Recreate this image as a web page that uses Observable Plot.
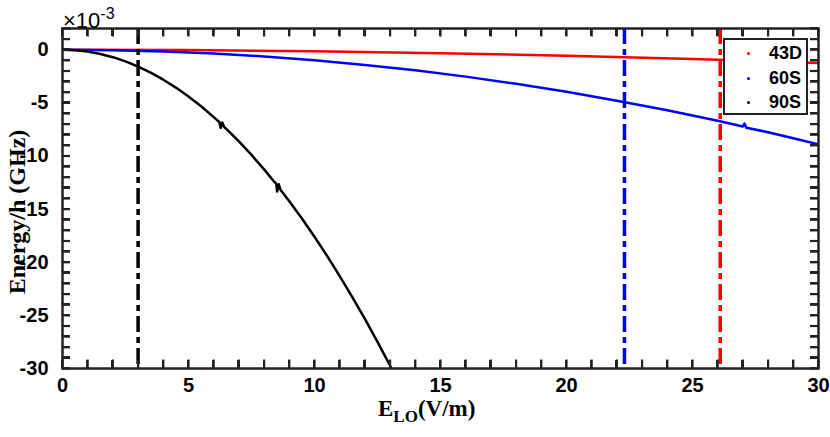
<!DOCTYPE html>
<html>
<head>
<meta charset="utf-8">
<script src="https://cdn.jsdelivr.net/npm/d3@7"></script>
<script src="https://cdn.jsdelivr.net/npm/@observablehq/plot@0.6"></script>
<style>
  body { margin: 0; background: #fff; }
  #wrap { position: relative; width: 830px; height: 437px; overflow: hidden; }
  .ov { position: absolute; white-space: nowrap; color: #000; }
  .tk { position: absolute; background: #222; }
  #wrap svg { font-family: 'Liberation Sans', Arial, sans-serif; }
</style>
</head>
<body>
<div id="wrap"></div>
<script>
// ---- data (Energy/h in units of 1e-3 GHz) ----
const x43D = [0, 5, 10, 15, 20, 25, 26, 28, 30];
const y43D = [0, -0.035, -0.14, -0.32, -0.56, -0.88, -0.95, -1.10, -1.26];

const x60S = [0, 2, 4, 6, 8, 10, 12, 14, 16, 18, 20, 22, 24, 26, 27.0, 27.06, 27.14, 28, 29, 30];
const y60S = [0, -0.04, -0.16, -0.36, -0.63, -0.99, -1.43, -1.94, -2.53, -3.21, -3.96, -4.79, -5.70, -6.69, -7.22, -6.95, -7.35, -7.76, -8.33, -8.91];

const x90S = [0, 0.5, 1, 1.5, 2, 2.5, 3, 3.5, 4, 4.5, 5, 5.5, 6, 6.22, 6.28, 6.34, 6.42, 6.5, 7, 7.5, 8, 8.4, 8.48, 8.52, 8.58, 8.65, 9, 9.5, 10, 10.5, 11, 11.5, 12, 12.5, 13, 13.1];
const y90S = [0, -0.044, -0.176, -0.40, -0.70, -1.10, -1.58, -2.16, -2.82, -3.56, -4.40, -5.32, -6.34, -6.80, -7.35, -6.85, -7.30, -7.44, -8.62, -9.90, -11.26, -12.42, -12.60, -13.35, -12.65, -13.17, -14.26, -15.88, -17.6, -19.40, -21.30, -23.28, -25.34, -27.50, -29.74, -30.2];

const seriesNames = ["43D", "60S", "90S"];
const seriesColors = ["red", "blue", "black"];

// vertical dash-dot markers
const vlineX = [3.0, 22.3, 26.1];
const vlineColor = ["black", "blue", "red"];

// tick labels
const xTicks = [0, 5, 10, 15, 20, 25, 30];
const yTicks = [0, -5, -10, -15, -20, -25, -30];

// ---- build tables ----
const rows = [];
[[x43D, y43D], [x60S, y60S], [x90S, y90S]].forEach(([xs, ys], i) => {
  xs.forEach((x, j) => rows.push({series: seriesNames[i], x, y: ys[j]}));
});
const vlines = vlineX.map((x, i) => ({x, c: vlineColor[i]}));

const xMin = 0, xMax = 30, yMin = -30, yMax = 2;
const xMinor = d3.range(xMin, xMax + 0.001, 1);
const yMinor = d3.range(yMin, yMax + 0.001, 1);
const tickLenY = 8 / 10.0;   // inward tick length in y units (~8px)
const tickLenX = 8 / 25.2;   // inward tick length in x units (~8px)

const xTickRows = [];
xMinor.forEach(x => {
  xTickRows.push({x, y1: yMin, y2: yMin + tickLenY});
  xTickRows.push({x, y1: yMax, y2: yMax - tickLenY});
});
const yTickRows = [];
yMinor.forEach(y => {
  yTickRows.push({y, x1: xMin, x2: xMin + tickLenX});
  yTickRows.push({y, x1: xMax, x2: xMax - tickLenX});
});

const plot = Plot.plot({
  width: 830,
  height: 437,
  marginLeft: 62,
  marginRight: 12,
  marginTop: 28,
  marginBottom: 69,
  x: {domain: [xMin, xMax]},
  y: {domain: [yMin, yMax]},
  marks: [
    Plot.line(rows, {x: "x", y: "y", z: "series", stroke: d => seriesColors[seriesNames.indexOf(d.series)], strokeWidth: 2.5, clip: true}),
    Plot.ruleX(vlines, {x: "x", stroke: d => d.c, strokeWidth: 3.5, strokeDasharray: "16,5,6,5", clip: true}),
    Plot.frame({stroke: "#222", strokeWidth: 2.5}),
    Plot.ruleX(xTickRows, {x: "x", y1: "y1", y2: "y2", stroke: "#222", strokeWidth: 2.2}),
    Plot.ruleY(yTickRows, {y: "y", x1: "x1", x2: "x2", stroke: "#222", strokeWidth: 2.2}),
    Plot.axisX({ticks: xTicks, tickSize: 0, tickPadding: 9, label: null, fontSize: 20, fontWeight: "bold", tickFormat: d => String(d)}),
    Plot.axisY({ticks: yTicks, tickSize: 0, tickPadding: 14, label: null, fontSize: 20, fontWeight: "bold", tickFormat: d => String(d)})
  ]
});

const wrap = document.getElementById("wrap");
wrap.appendChild(plot);

// backup inward ticks as HTML blocks, positioned from Plot's own scale descriptors
const xsd = plot.scale("x"), ysd = plot.scale("y");
const fx = d3.scaleLinear().domain(xsd.domain).range(xsd.range);
const fy = d3.scaleLinear().domain(ysd.domain).range(ysd.range);
const L = fx(xMin), R = fx(xMax), B = fy(yMin), T = fy(yMax);
const TL = 8, TW = 2;
function tick(left, top, w, h) {
  const d = document.createElement("div");
  d.className = "tk";
  d.style.left = left + "px";
  d.style.top = top + "px";
  d.style.width = w + "px";
  d.style.height = h + "px";
  wrap.appendChild(d);
}
xMinor.forEach(v => {
  const px = fx(v);
  tick(px - TW / 2, B - TL, TW, TL);
  tick(px - TW / 2, T, TW, TL);
});
yMinor.forEach(v => {
  const py = fy(v);
  tick(L, py - TW / 2, TL, TW);
  tick(R - TL, py - TW / 2, TL, TW);
});

function overlay(html, css) {
  const d = document.createElement("div");
  d.className = "ov";
  d.innerHTML = html;
  Object.assign(d.style, css);
  wrap.appendChild(d);
  return d;
}

// exponent label
overlay("&times;10<sup style='font-size:16px;position:relative;top:-1px'>-3</sup>",
  {left: "63px", top: "3px", font: "22px 'Liberation Sans', Arial, sans-serif", lineHeight: "24px"});

// x label
overlay("E<sub style='font-size:17px'>LO</sub>(V/m)",
  {left: "378px", top: "396px", font: "bold 23px 'Liberation Serif', 'Times New Roman', serif", lineHeight: "26px"});

// y label
overlay("Energy/h (GHz)",
  {left: "17px", top: "212px", font: "bold 24px 'Liberation Serif', 'Times New Roman', serif",
   transform: "translate(-50%,-50%) rotate(-90deg)"});

// legend
const leg = overlay("", {left: "723px", top: "38px", width: "81px", height: "73px",
  border: "2.5px solid #222", background: "#fff"});
seriesNames.forEach((name, i) => {
  const row = document.createElement("div");
  Object.assign(row.style, {position: "absolute", left: "0", top: (2 + i * 24.5) + "px", height: "22px",
    width: "81px", font: "bold 18px 'Liberation Sans', Arial, sans-serif", lineHeight: "22px"});
  row.innerHTML = `<span style="position:absolute;left:22px;top:10px;width:3px;height:3px;border-radius:50%;background:${seriesColors[i]}"></span>` +
    `<span style="position:absolute;left:44px;top:0">${name}</span>`;
  leg.appendChild(row);
});
</script>
</body>
</html>
